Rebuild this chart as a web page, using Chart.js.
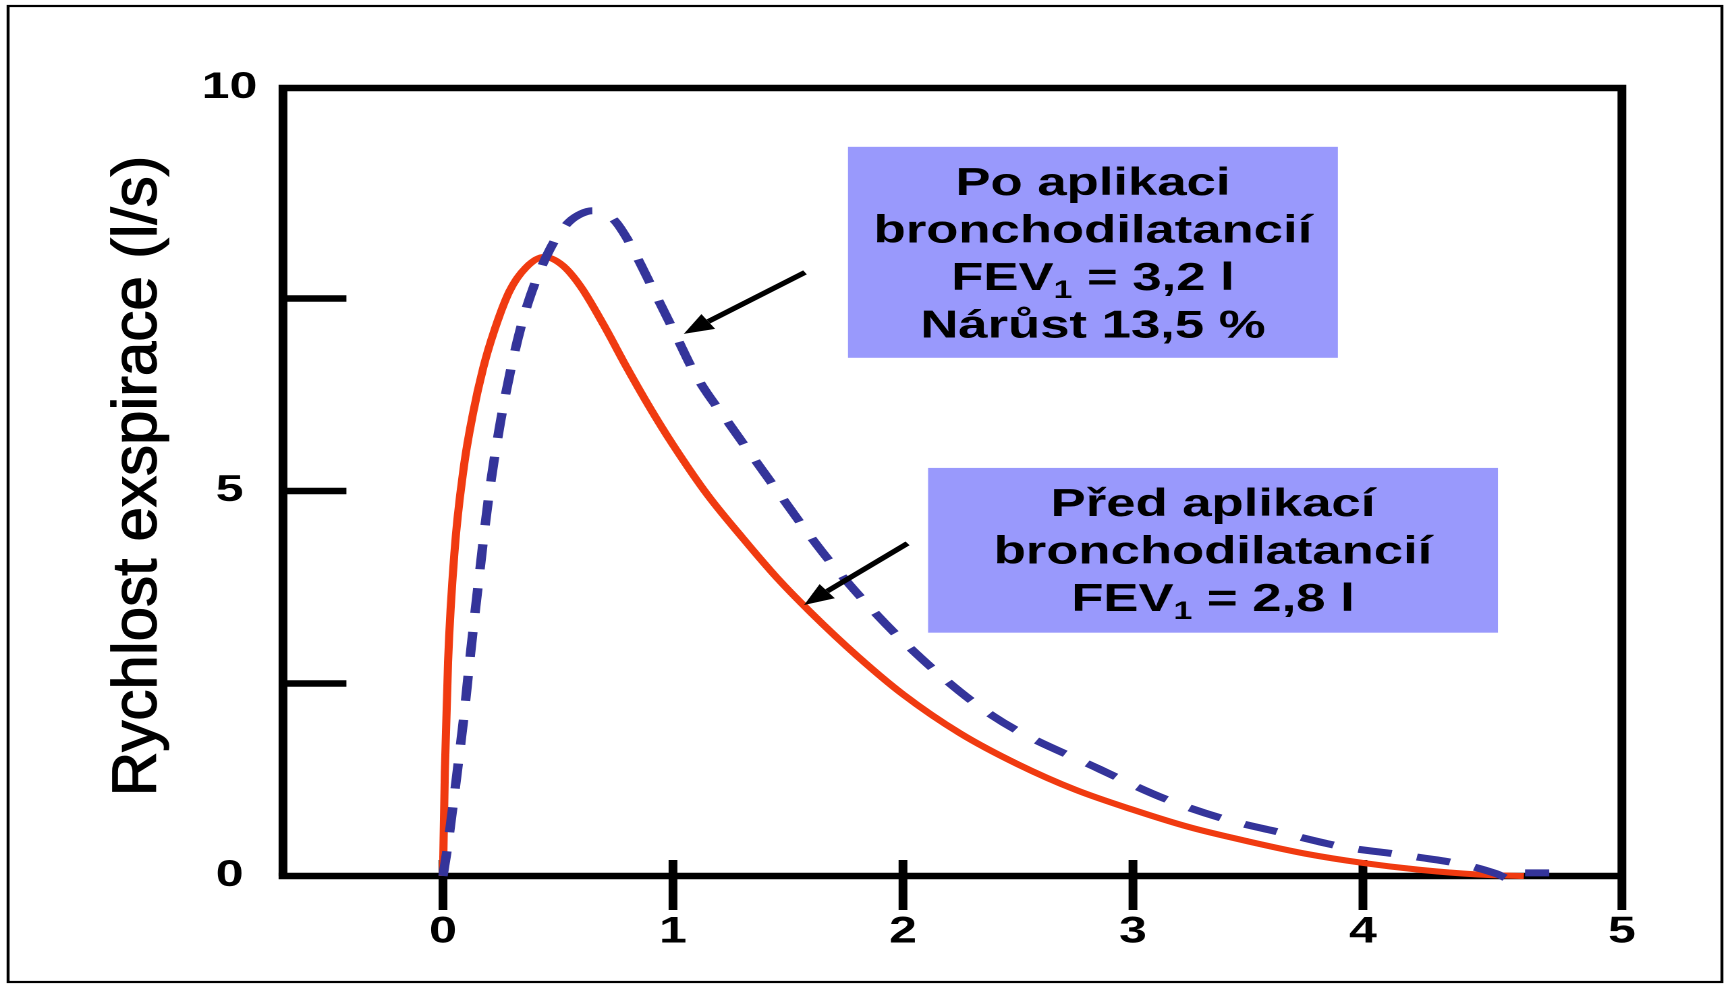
<!DOCTYPE html>
<html><head><meta charset="utf-8">
<script src="https://cdn.jsdelivr.net/npm/chart.js@4.4.1/dist/chart.umd.min.js"></script>
<style>
html,body{margin:0;padding:0;background:#fff;overflow:hidden;width:1730px;height:987px}
#wrap{position:absolute;left:0;top:0;width:1282px;height:987px;transform-origin:0 0;transform:scaleX(1.34945)}
</style></head><body>
<div id="wrap"><canvas id="c" width="1282" height="987"></canvas></div>
<script>
// ---- data (x: time in s, y: flow in l/s) ----
const predX = [0, 0.008, 0.022, 0.05, 0.09, 0.13, 0.175, 0.225, 0.29, 0.36, 0.44, 0.52, 0.60, 0.70, 0.80, 0.90, 1.00, 1.15, 1.30, 1.45, 1.60, 1.80, 2.00, 2.25, 2.50, 2.75, 3.00, 3.25, 3.50, 3.75, 4.00, 4.25, 4.50, 4.70];
const predY = [0, 1.35, 2.78, 4.21, 5.3, 6.0, 6.6, 7.1, 7.6, 7.9, 8.04, 7.93, 7.65, 7.15, 6.6, 6.08, 5.6, 4.95, 4.4, 3.88, 3.42, 2.86, 2.36, 1.85, 1.45, 1.12, 0.86, 0.63, 0.45, 0.29, 0.17, 0.08, 0.02, 0];
const poX = [0, 0.02, 0.045, 0.068, 0.09, 0.12, 0.15, 0.20, 0.25, 0.30, 0.35, 0.40, 0.45, 0.50, 0.55, 0.60, 0.65, 0.70, 0.75, 0.80, 0.85, 0.90, 1.00, 1.10, 1.25, 1.43, 1.60, 1.72, 2.00, 2.39, 2.86, 3.15, 3.41, 3.65, 3.91, 4.18, 4.45, 4.58, 4.65, 4.68, 4.81];
const poY = [0, 0.38, 0.95, 1.5, 2.05, 2.9, 3.7, 4.95, 5.9, 6.65, 7.25, 7.7, 8.05, 8.32, 8.5, 8.6, 8.64, 8.62, 8.5, 8.28, 8.0, 7.7, 7.1, 6.5, 5.85, 5.1, 4.4, 3.95, 3.05, 2.08, 1.38, 0.99, 0.73, 0.56, 0.38, 0.27, 0.14, 0.03, -0.05, 0.04, 0.04];

const xTickValues = [0, 1, 2, 3, 4, 5];
const xTickLabels = ['0', '1', '2', '3', '4', '5'];
const yTickValues = [0, 2.5, 5, 7.5, 10];
const yTickLabels = ['0', '', '5', '', '10'];
const yTitle = 'Rychlost exspirace (l/s)';

const boxPoLines = ['Po aplikaci', 'bronchodilatancií', 'FEV{1} = 3,2 l', 'Nárůst 13,5 %'];
const boxPredLines = ['Před aplikací', 'bronchodilatancií', 'FEV{1} = 2,8 l'];

// annotation anchors in axis units
const notes = [
  { lines: boxPoLines, x0: 1.761, x1: 3.891, y0: 9.47, y1: 6.73, from: [1.574, 7.84], to: [1.047, 7.04] },
  { lines: boxPredLines, x0: 2.109, x1: 4.587, y0: 5.30, y1: 3.16, from: [2.02, 4.32], to: [1.57, 3.52] }
];

const FONT = '"Liberation Sans", Arial, Helvetica, sans-serif';
const STRETCH = 1730 / 1282;

const framePlugin = {
  id: 'frame',
  beforeDatasetsDraw(chart) {
    const { ctx, chartArea: a, scales: { x, y } } = chart;
    ctx.save();
    ctx.strokeStyle = '#000';
    ctx.lineWidth = 2.2;
    ctx.strokeRect(6, 6, chart.width - 12, chart.height - 11);
    ctx.lineWidth = 6.5;
    ctx.lineCap = 'butt';
    ctx.lineJoin = 'miter';
    ctx.beginPath();
    ctx.moveTo(a.left, a.bottom);
    ctx.lineTo(a.left, a.top);
    ctx.lineTo(a.right, a.top);
    ctx.lineTo(a.right, a.bottom + 34);
    ctx.stroke();
    ctx.beginPath();
    ctx.moveTo(a.left - 3.25, a.bottom);
    ctx.lineTo(a.right, a.bottom);
    ctx.stroke();
    ctx.beginPath();
    x.ticks.forEach((t, i) => {
      if (i === x.ticks.length - 1) return;
      const px = x.getPixelForValue(t.value);
      ctx.moveTo(px, a.bottom - 16);
      ctx.lineTo(px, a.bottom + 34);
    });
    y.ticks.forEach((t, i) => {
      if (i === 0 || i === y.ticks.length - 1) return;
      const py = y.getPixelForValue(t.value);
      ctx.moveTo(a.left, py);
      ctx.lineTo(a.left + 47, py);
    });
    ctx.stroke();
    // y axis title (drawn without the horizontal stretch)
    ctx.translate(103, (a.top + a.bottom) / 2 - 6);
    ctx.scale(1 / STRETCH, 1);
    ctx.rotate(-Math.PI / 2);
    ctx.font = '62px ' + FONT;
    ctx.textAlign = 'center';
    ctx.textBaseline = 'middle';
    ctx.fillStyle = '#000';
    ctx.strokeStyle = '#000';
    ctx.lineWidth = 1.2;
    ctx.fillText(yTitle, 0, 0);
    ctx.strokeText(yTitle, 0, 0);
    ctx.restore();
  }
};

function drawRich(ctx, str, cx, baseline) {
  const parts = str.split(/\{(.+?)\}/);
  const main = 'bold 39px ' + FONT, sub = 'bold 25px ' + FONT;
  let total = 0;
  parts.forEach((p, i) => { ctx.font = i % 2 ? sub : main; total += ctx.measureText(p).width; });
  let xx = cx - total / 2;
  ctx.textAlign = 'left';
  ctx.textBaseline = 'alphabetic';
  parts.forEach((p, i) => {
    ctx.font = i % 2 ? sub : main;
    ctx.fillText(p, xx, baseline + (i % 2 ? 8 : 0));
    xx += ctx.measureText(p).width;
  });
}

const notesPlugin = {
  id: 'notes',
  afterDatasetsDraw(chart) {
    const { ctx, scales: { x, y } } = chart;
    ctx.save();
    notes.forEach(n => {
      const L = x.getPixelForValue(n.x0), R = x.getPixelForValue(n.x1);
      const T = y.getPixelForValue(n.y0), B = y.getPixelForValue(n.y1);
      ctx.fillStyle = '#9999FC';
      ctx.fillRect(L, T, R - L, B - T);
      ctx.fillStyle = '#000';
      n.lines.forEach((ln, i) => drawRich(ctx, ln, (L + R) / 2, T + 48 + i * 47.5));
      const x1 = x.getPixelForValue(n.from[0]), y1 = y.getPixelForValue(n.from[1]);
      const x2 = x.getPixelForValue(n.to[0]), y2 = y.getPixelForValue(n.to[1]);
      const ang = Math.atan2(y2 - y1, x2 - x1);
      const hl = 22, hw = 9;
      const bx = x2 - hl * Math.cos(ang), by = y2 - hl * Math.sin(ang);
      ctx.strokeStyle = '#000';
      ctx.lineWidth = 4.8;
      ctx.beginPath();
      ctx.moveTo(x1, y1);
      ctx.lineTo(bx, by);
      ctx.stroke();
      ctx.beginPath();
      ctx.moveTo(x2, y2);
      ctx.lineTo(bx + hw * Math.sin(ang), by - hw * Math.cos(ang));
      ctx.lineTo(bx - hw * Math.sin(ang), by + hw * Math.cos(ang));
      ctx.closePath();
      ctx.fill();
    });
    ctx.restore();
  }
};

const tickFont = { family: FONT, size: 37, weight: 'bold' };

new Chart(document.getElementById('c'), {
  type: 'line',
  data: {
    datasets: [
      {
        label: 'Po aplikaci bronchodilatancií',
        data: poX.map((v, i) => ({ x: v, y: poY[i] })),
        borderColor: '#34349A',
        borderWidth: 7,
        borderDash: [25, 19],
        borderCapStyle: 'butt',
        pointRadius: 0,
        cubicInterpolationMode: 'monotone',
        fill: false,
        clip: 20
      },
      {
        label: 'Před aplikací bronchodilatancií',
        data: predX.map((v, i) => ({ x: v, y: predY[i] })),
        borderColor: '#F03A10',
        borderWidth: 6,
        pointRadius: 0,
        cubicInterpolationMode: 'monotone',
        fill: false,
        clip: 20
      }
    ]
  },
  options: {
    responsive: false,
    animation: false,
    devicePixelRatio: 2,
    layout: { padding: { top: 88, right: 80.1, left: 0, bottom: 0 } },
    plugins: { legend: { display: false }, tooltip: { enabled: false } },
    scales: {
      x: {
        type: 'linear', min: -0.6957, max: 5.126,
        grid: { display: false, drawTicks: false },
        border: { display: false },
        afterBuildTicks: s => { s.ticks = xTickValues.map((v, i) => ({ value: i === xTickValues.length - 1 ? s.max : v })); },
        afterFit: s => { s.height = 111; },
        ticks: { autoSkip: false, maxRotation: 0, padding: 34, color: '#000', font: tickFont,
          callback: (v, i) => xTickLabels[i] }
      },
      y: {
        type: 'linear', min: 0, max: 10.234,
        grid: { display: false, drawTicks: false },
        border: { display: false },
        afterBuildTicks: s => { s.ticks = yTickValues.map((v, i) => ({ value: i === yTickValues.length - 1 ? s.max : v })); },
        afterFit: s => { s.width = 209.7; },
        ticks: { autoSkip: false, crossAlign: 'center', padding: 19, color: '#000', font: tickFont,
          callback: (v, i) => yTickLabels[i] },
        title: { display: false }
      }
    }
  },
  plugins: [framePlugin, notesPlugin]
});
</script>
</body></html>
